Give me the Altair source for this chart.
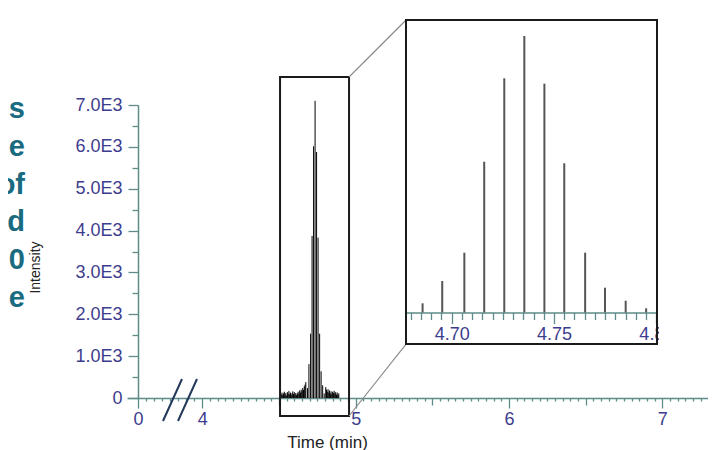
import altair as alt
import pandas as pd

# ---------------- data ----------------
# centroided peaks of the isotope cluster (time in min, intensity)
peak_times = [4.6858, 4.6954, 4.7062, 4.7159, 4.7257, 4.7355,
              4.7453, 4.7550, 4.7652, 4.7749, 4.7850, 4.7950]
peak_heights = [236, 809, 1536, 3872, 6014, 7100,
                5876, 3832, 1536, 637, 303, 108]

# baseline noise sticks around the cluster (main view only)
noise_times = [4.515, 4.520, 4.525, 4.530, 4.535, 4.540, 4.545, 4.550, 4.555, 4.560,
               4.565, 4.570, 4.575, 4.580, 4.585, 4.590, 4.595, 4.600, 4.605, 4.610,
               4.615, 4.620, 4.625, 4.630, 4.635, 4.640, 4.645, 4.650, 4.655, 4.660,
               4.665, 4.670, 4.675,
               4.805, 4.810, 4.815, 4.820, 4.825, 4.830, 4.835, 4.840, 4.845, 4.850,
               4.855, 4.860, 4.865, 4.870, 4.875, 4.880, 4.885, 4.890]
noise_heights = [90, 130, 70, 110, 150, 80, 120, 60, 140, 100,
                 170, 90, 130, 75, 115, 160, 95, 140, 85, 120,
                 70, 110, 150, 100, 180, 130, 200, 160, 240, 190,
                 280, 320, 380,
                 260, 200, 150, 210, 130, 180, 110, 160, 90, 150,
                 120, 170, 100, 140, 80, 130, 70, 110]

left_text_lines = ["s", "e", "of", "d", "0", "e"]

# axis tick positions
main_x_major = [0, 4, 5, 6, 7]
main_x_medium = [4.5, 5.5, 6.5]
main_x_minor = [0.5, 1, 1.5, 2, 2.5, 3, 3.5] + [
    round(4 + 0.05 * i, 2) for i in range(66) if i % 10 != 0]
main_y_major = [0, 1000, 2000, 3000, 4000, 5000, 6000, 7000]
main_y_minor = [500, 1500, 2500, 3500, 4500, 5500, 6500]
inset_major = [4.70, 4.75, 4.80]
inset_minor = [round(4.68 + 0.005 * i, 3) for i in range(25) if i % 10 != 4]

# zoom box (main units), connectors and axis break
box_t = [4.507, 4.957]
box_v = [-430, 7668]
conn_t = [4.957, 5.329]
conn_upper_v = [7668, 9030]
conn_lower_v = [-430, 1290]
break_t_start = [1.555, 2.488]
break_t_end = [2.737, 3.670]
break_v = [-549, 454]

# inset frame and label mask (inset units)
inset_t = [4.6777, 4.8003]
inset_frame_v = [-809, 7511]
mask_t = [4.8013, 4.845]
mask_v = [-250, -950]

AXIS_COL = "#5e8c89"
LABEL_COL = "#3d3d8e"
FONT = "Liberation Sans"

# ---------------- scales ----------------
main_x = alt.Scale(domain=[-0.7, 0, 4, 7.298], range=[-11, 0, 64.3, 570], nice=False, zero=False)
main_y = alt.Scale(domain=[0, 7000], range=[378, 85], nice=False, zero=False)
inset_x = alt.Scale(domain=inset_t, range=[268, 519], nice=False, zero=False)
inset_y = alt.Scale(domain=[0, 7100], range=[292.5, 16], nice=False, zero=False)

common = dict(tickColor=AXIS_COL, domainColor=AXIS_COL, domainWidth=1.5, tickWidth=1.3,
              grid=False, labelFlush=False, labelBound=False)


def tick_axis(orient, values, size, offset=0):
    return alt.Axis(orient=orient, values=values, tickSize=size, labels=False, domain=False,
                    title=None, offset=offset, tickColor=AXIS_COL, tickWidth=1.3, grid=False)


main_x_axis = alt.Axis(
    orient="bottom", values=main_x_major, format="d",
    labelOverlap=False, labelFont=FONT, labelFontSize=18, labelColor=LABEL_COL, labelPadding=2,
    tickSize=10, title="Time (min)", titleFont=FONT, titleFontSize=17, titleFontWeight="normal",
    titleColor="#222222", titleX=189, titleY=49, titleBaseline="alphabetic", titleAlign="center",
    **common,
)
main_y_axis = alt.Axis(
    orient="left", values=main_y_major,
    labelExpr="datum.value == 0 ? '0' : format(datum.value / 1000, '.1f') + 'E3'",
    labelOverlap=False, labelFont=FONT, labelFontSize=18, labelColor=LABEL_COL, labelPadding=6,
    tickSize=10, title="Intensity", titleFont=FONT, titleFontSize=14, titleFontWeight="normal",
    titleColor="#222222", titleX=-103, titleY=247, titleAngle=-90, titleBaseline="middle",
    titleAlign="center",
    **common,
)
inset_axis = alt.Axis(
    orient="bottom", offset=-85.5, values=inset_major, format=".2f",
    labelOverlap=False, labelFont=FONT, labelFontSize=18, labelColor=LABEL_COL, labelPadding=2,
    tickSize=11, title=None,
    **common,
)

# ---------------- tables ----------------
main_df = pd.DataFrame({"t": peak_times + noise_times, "v": peak_heights + noise_heights})
inset_df = pd.DataFrame({"t": peak_times, "v": peak_heights})
box_df = pd.DataFrame({"t1": [box_t[0]], "t2": [box_t[1]], "v1": [box_v[0]], "v2": [box_v[1]]})
conn_df = pd.DataFrame({"t1": [conn_t[0], conn_t[0]], "t2": [conn_t[1], conn_t[1]],
                        "v1": [conn_upper_v[0], conn_lower_v[0]], "v2": [conn_upper_v[1], conn_lower_v[1]]})
break_df = pd.DataFrame({"t1": break_t_start, "t2": break_t_end,
                         "v1": [break_v[0]] * 2, "v2": [break_v[1]] * 2})
frame_df = pd.DataFrame({"t1": [inset_t[0]], "t2": [inset_t[1]],
                         "v1": [inset_frame_v[0]], "v2": [inset_frame_v[1]]})
mask_df = pd.DataFrame({"t1": [mask_t[0]], "t2": [mask_t[1]], "v1": [mask_v[0]], "v2": [mask_v[1]]})
text_df = pd.DataFrame({"txt": ["\n".join(left_text_lines)]})

# ---------------- main view ----------------
sticks = alt.Chart(main_df).mark_rule(color="black", strokeWidth=1).encode(
    x=alt.X("t:Q", scale=main_x, axis=main_x_axis),
    y=alt.Y("v:Q", scale=main_y, axis=main_y_axis),
    y2=alt.datum(0),
)
minor_ax = alt.Chart(main_df).mark_rule(opacity=0).encode(
    x=alt.X("t:Q", scale=main_x, axis=tick_axis("bottom", main_x_minor, 3)),
    y=alt.Y("v:Q", scale=main_y, axis=tick_axis("left", main_y_minor, 6)),
)
medium_ax = alt.Chart(main_df).mark_rule(opacity=0).encode(
    x=alt.X("t:Q", scale=main_x, axis=tick_axis("bottom", main_x_medium, 7)),
    y=alt.Y("v:Q", scale=main_y, axis=None),
)
box = alt.Chart(box_df).mark_rect(fill="white", fillOpacity=0, stroke="#1a1a1a", strokeWidth=2).encode(
    x=alt.X("t1:Q", scale=main_x, axis=None), x2="t2:Q",
    y=alt.Y("v1:Q", scale=main_y, axis=None), y2="v2:Q",
)
conns = alt.Chart(conn_df).mark_rule(color="#8c8c8c", strokeWidth=1.2).encode(
    x=alt.X("t1:Q", scale=main_x, axis=None), x2="t2:Q",
    y=alt.Y("v1:Q", scale=main_y, axis=None), y2="v2:Q",
)
brk = alt.Chart(break_df).mark_rule(color="#22395a", strokeWidth=2).encode(
    x=alt.X("t1:Q", scale=main_x, axis=None), x2="t2:Q",
    y=alt.Y("v1:Q", scale=main_y, axis=None), y2="v2:Q",
)
left_text = alt.Chart(text_df).mark_text(
    align="right", baseline="alphabetic", font=FONT, fontSize=29, fontWeight="bold",
    color="#1a6a80", lineBreak="\n", lineHeight=37.8,
).encode(text="txt:N", x=alt.value(-113), y=alt.value(98))

main_layer = alt.layer(sticks, minor_ax, medium_ax, box, conns, brk, left_text).resolve_axis(
    x="independent", y="independent")

# ---------------- inset ----------------
inset_sticks = alt.Chart(inset_df).mark_rule(color="#555555", strokeWidth=2).encode(
    x=alt.X("t:Q", scale=inset_x, axis=inset_axis),
    y=alt.Y("v:Q", scale=inset_y, axis=None),
    y2=alt.datum(0),
)
inset_minor_ax = alt.Chart(inset_df).mark_rule(opacity=0).encode(
    x=alt.X("t:Q", scale=inset_x, axis=tick_axis("bottom", inset_minor, 7, offset=-85.5)),
    y=alt.Y("v:Q", scale=inset_y, axis=None),
)
mask = alt.Chart(mask_df).mark_rect(color="white").encode(
    x=alt.X("t1:Q", scale=inset_x, axis=None), x2="t2:Q",
    y=alt.Y("v1:Q", scale=inset_y, axis=None), y2="v2:Q",
)
frame = alt.Chart(frame_df).mark_rect(fill="white", fillOpacity=0, stroke="#1a1a1a", strokeWidth=2).encode(
    x=alt.X("t1:Q", scale=inset_x, axis=None), x2="t2:Q",
    y=alt.Y("v1:Q", scale=inset_y, axis=None), y2="v2:Q",
)
inset_layer = alt.layer(inset_sticks, inset_minor_ax, mask, frame).resolve_axis(x="independent")

chart = alt.layer(main_layer, inset_layer).resolve_scale(
    x="independent", y="independent"
).properties(
    width=570, height=378,
    autosize=alt.AutoSizeParams(type="none"),
    padding={"left": 130, "top": 12, "right": 0, "bottom": 52},
    background="white",
).configure_view(strokeWidth=0)

chart.save("out.html", embed_options={"renderer": "svg", "actions": False})
